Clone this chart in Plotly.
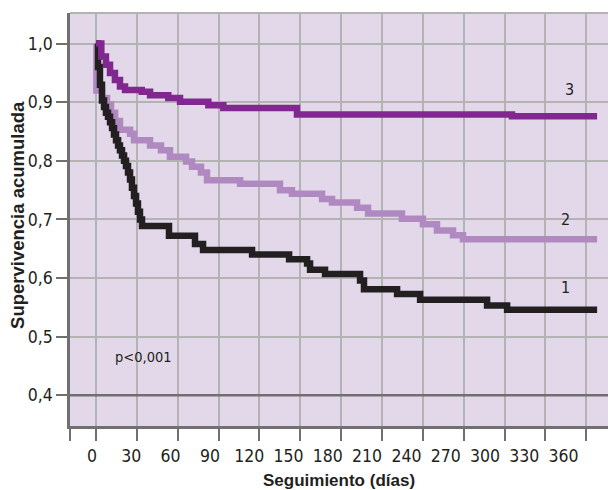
import plotly.graph_objects as go

# ---- data ----
g3_days = [0, 3.9, 7.3, 10.3, 13.9, 17.6, 21.3, 33.6, 39.7, 53.1, 61.7, 82.5, 93.5, 147.6, 305.5, 368]
g3_surv = [1.0, 0.978, 0.964, 0.950, 0.938, 0.927, 0.921, 0.918, 0.912, 0.907, 0.901, 0.895, 0.890, 0.879, 0.876, 0.876]

g2_days = [0, 0.3, 4.4, 8.1, 11.0, 14.0, 17.6, 25.0, 27.9, 39.7, 47.7, 54.3, 66.1, 70.5, 77.1, 81.5,
           105.8, 135.1, 143.9, 166.0, 173.3, 191.7, 199.8, 224.7, 240.1, 250.4, 262.2, 269.5, 368]
g2_surv = [1.0, 0.920, 0.907, 0.896, 0.882, 0.868, 0.853, 0.846, 0.835, 0.826, 0.818, 0.807, 0.799, 0.790, 0.780, 0.767,
           0.761, 0.750, 0.744, 0.735, 0.729, 0.720, 0.710, 0.701, 0.692, 0.681, 0.673, 0.666, 0.666]

g1_days = [0, 1.5, 2.9, 4.4, 5.9, 7.3, 8.8, 10.3, 11.8, 13.2, 14.7, 16.2, 17.6, 19.1, 20.6, 22.0, 23.5, 25.0,
           26.4, 27.9, 29.4, 30.8, 32.3, 33.8, 53.6, 72.7, 78.6, 114.6, 141.8, 155.0, 157.2, 168.2, 193.9,
           196.8, 221.1, 238.0, 287.2, 301.9, 368]
g1_surv = [1.0, 0.960, 0.930, 0.903, 0.892, 0.882, 0.875, 0.866, 0.856, 0.845, 0.835, 0.826, 0.818, 0.809,
           0.800, 0.791, 0.780, 0.768, 0.754, 0.740, 0.727, 0.713, 0.700, 0.689, 0.672, 0.658, 0.648, 0.640,
           0.632, 0.625, 0.614, 0.607, 0.596, 0.581, 0.573, 0.563, 0.553, 0.546, 0.546]

x_ticks = list(range(0, 361, 30))
x_labels = [str(v) for v in x_ticks]
y_ticks = [0.4, 0.5, 0.6, 0.7, 0.8, 0.9, 1.0]
y_labels = ["0,4", "0,5", "0,6", "0,7", "0,8", "0,9", "1,0"]

curve_labels = ["3", "2", "1"]
curve_label_x = [348, 345, 345]
curve_label_y = [0.922, 0.700, 0.584]

# ---- styles ----
C3 = "#80288F"
C2 = "#B189C1"
C1 = "#231F20"
BG = "#E3D8EA"
GRID = "#B3B3B3"
AXIS = "#707070"
NARROW = "DejaVu Sans Condensed, Liberation Sans Narrow, sans-serif"
BOLD = "Liberation Sans, Arial, sans-serif"

fig = go.Figure()
for xs, ys, c in [(g2_days, g2_surv, C2), (g1_days, g1_surv, C1), (g3_days, g3_surv, C3)]:
    fig.add_trace(go.Scatter(x=xs, y=ys, mode="lines", line=dict(color=c, width=6.5, shape="hv"),
                             showlegend=False, hoverinfo="skip"))

# invisible helper trace for the label axis
fig.add_trace(go.Scatter(x=[0], y=[0.5], xaxis="x2", mode="markers", marker=dict(opacity=0),
                         showlegend=False, hoverinfo="skip"))

x0 = -19.1
fig.update_layout(
    width=608, height=490,
    margin=dict(l=70, r=0, t=13, b=64, autoexpand=False),
    paper_bgcolor="white", plot_bgcolor=BG,
    xaxis=dict(range=[x0, 376], tickvals=[x0] + x_ticks, ticktext=[""] * (len(x_ticks) + 1),
               showgrid=True, gridcolor=GRID, gridwidth=2, zeroline=False,
               showline=True, linecolor=AXIS, linewidth=2.5, automargin=False,
               ticks="outside", ticklen=12, tickwidth=2, tickcolor=AXIS),
    xaxis2=dict(overlaying="x", anchor="y", side="bottom", range=[-16.8, 393.9],
                tickvals=x_ticks, ticktext=x_labels, showgrid=False, zeroline=False, showline=False,
                ticks="outside", ticklen=14, tickcolor="rgba(0,0,0,0)", automargin=False,
                tickfont=dict(family=NARROW, size=17.5, color=C1)),
    yaxis=dict(range=[0.3476, 1.0522], tickvals=y_ticks, ticktext=y_labels,
               showgrid=True, gridcolor=GRID, gridwidth=2, zeroline=False,
               showline=True, linecolor=AXIS, linewidth=2.5, automargin=False,
               ticks="outside", ticklen=11, tickwidth=2, tickcolor=AXIS,
               tickfont=dict(family=NARROW, size=17.5, color=C1)),
    shapes=[
        dict(type="line", xref="paper", yref="y", x0=0, x1=1, y0=0.4, y1=0.4,
             line=dict(color=AXIS, width=2.5)),
        dict(type="line", xref="paper", yref="paper", x0=0, x1=1, y0=1, y1=1,
             line=dict(color=GRID, width=2)),
    ],
    annotations=[
        dict(text="<b>Seguimiento (días)</b>", xref="paper", yref="paper", x=0.5, y=-0.133,
             xanchor="center", yanchor="middle", showarrow=False,
             font=dict(family=BOLD, size=17, color=C1)),
        dict(text="<b>Supervivencia acumulada</b>", xref="paper", yref="paper", x=-0.0967, y=0.511,
             xanchor="center", yanchor="middle", textangle=-90, showarrow=False,
             font=dict(family=BOLD, size=18.5, color=C1)),
        dict(text="p<0,001", xref="x", yref="y", x=35.2, y=0.465, xanchor="center", yanchor="middle",
             showarrow=False, font=dict(family=NARROW, size=14.5, color=C1)),
    ] + [
        dict(text=t, xref="x", yref="y", x=xx, y=yy, xanchor="center", yanchor="middle",
             showarrow=False, font=dict(family=NARROW, size=16, color=C1))
        for t, xx, yy in zip(curve_labels, curve_label_x, curve_label_y)
    ],
)

fig.write_html("out.html", config={"displayModeBar": False},
               post_script="document.body.style.margin='0px';document.body.style.overflow='hidden';")
